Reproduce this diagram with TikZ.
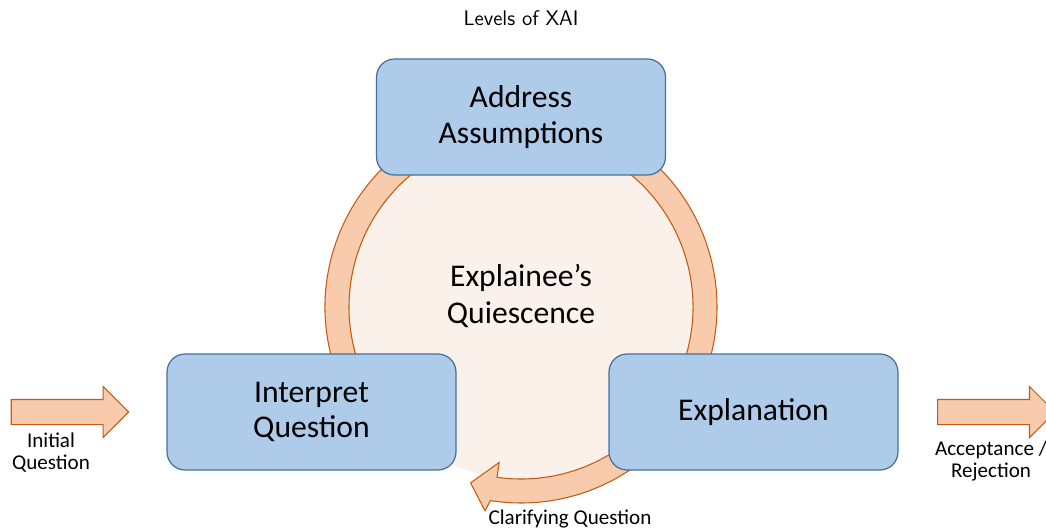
\documentclass[tikz,border=0pt]{standalone}
\usepackage{fontspec}
\setmainfont{Carlito}
\usetikzlibrary{shapes.arrows}

\definecolor{boxfill}{RGB}{174,203,234}
\definecolor{boxline}{RGB}{65,113,156}
\definecolor{ringfill}{RGB}{248,203,173}
\definecolor{ringline}{RGB}{197,90,17}
\definecolor{palefill}{RGB}{251,241,235}

\tikzset{
  level/.style={draw=boxline, fill=boxfill, line width=0.7pt, rounded corners=0.36cm,
    minimum width=5.78cm, minimum height=2.32cm, align=center,
    font=\fontsize{18}{20.3}\selectfont},
  ring/.style={draw=ringline, fill=ringfill, line width=0.6pt},
  blockarrow/.style={single arrow, ring, minimum height=2.35cm, inner sep=0pt,
    inner ysep=0.24cm, single arrow head extend=0.26cm},
  lbl/.style={align=center, font=\fontsize{12}{12.5}\selectfont}
}

\begin{document}
\begin{tikzpicture}[x=0.02cm, y=-0.02cm]
 \clip (0,0) rectangle (1046,528);

 % quiescence disc and the ring round it
 \fill[palefill] (521,307) circle (172);
 \begin{scope}[shift={(521,307)}]
  \draw[ring] (160:196) arc[start angle=160, end angle=380, radius=196]
   -- (380:172) arc[start angle=380, end angle=160, radius=172] -- cycle;
  % clarifying question, back along the ring
  \draw[ring] (50:196) arc[start angle=50, end angle=99, radius=196]
   -- (100:207) -- (106:183) -- (98:157) -- (98:172)
   arc[start angle=98, end angle=50, radius=172] -- cycle;
 \end{scope}

 \node[level] (addr) at (521,117) {Address\\Assumptions};
 \node[level] (interp) at (311.5,412) {Interpret\\Question};
 \node[level] (expl) at (753.5,412) {Explanation};
 \node[align=center, font=\fontsize{18}{21.4}\selectfont] (quiesc) at (521,296) {Explainee’s\\Quiescence};

 \node[font=\fontsize{12}{14}\sffamily] (title) at (521,18) {Levels of XAI};

 \node[blockarrow, anchor=tail] (inarrow) at (10.7,412) {};
 \node[blockarrow, anchor=tail] (outarrow) at (937,412) {};

 \node[lbl] (initlbl) at (51,453) {Initial\\Question};
 \node[lbl] (acclbl) at (991,461) {Acceptance /\\Rejection};
 \node[lbl] (clarlbl) at (570,519) {Clarifying Question};
\end{tikzpicture}
\end{document}
